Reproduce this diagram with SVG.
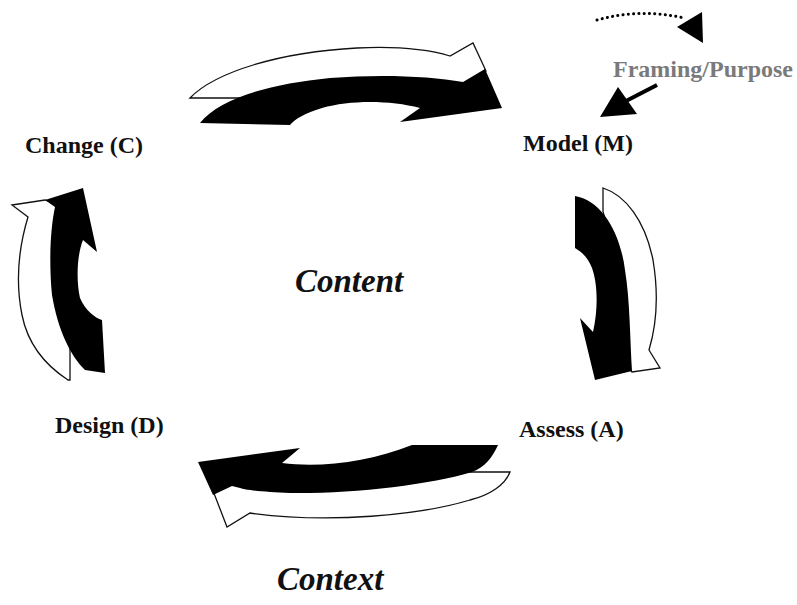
<svg xmlns="http://www.w3.org/2000/svg" width="797" height="605" viewBox="0 0 797 605">
<style>
.lbl{font-family:"Liberation Serif","Times New Roman",serif;font-weight:bold;font-size:24px;fill:#111}
.big{font-family:"Liberation Serif","Times New Roman",serif;font-weight:bold;font-style:italic;font-size:33px;fill:#111}
.gray{fill:#7a7a7a}
.wht{fill:#fff;stroke:#111;stroke-width:1.3;stroke-linejoin:miter}
.blk{fill:#000}
</style>
<rect width="797" height="605" fill="#fff"/>
<g id="connectors">
  <g id="arrow-CM">
    <path class="wht" d="M190,98 C215,72 280,52 357,48 C400,46 430,50 450,56 L473,43 L486,71 L463,88 C400,84 300,88 250,100 L250,98 Z"/>
    <path class="blk" d="M200,123 C220,98 270,84 330,78 C380,74 430,76 463,82 L485,69 L502,108 L400,122 L420,108 C390,100 350,100 322,108 C305,113 295,119 290,125 Z"/>
  </g>
  <g id="arrow-MA">
    <path class="wht" d="M603,188 C625,195 645,220 653,260 C658,290 658,320 649,350 L660,368 L632,372 L622,360 C622,300 618,260 612,240 L603,212 Z"/>
    <path class="blk" d="M575,196 C600,200 620,230 625,270 C630,300 630,340 632,371 L595,380 L580,318 L593,332 C598,310 598,285 592,268 C588,258 582,252 575,248 Z"/>
  </g>
  <g id="arrow-AD">
    <path class="wht" d="M466,472 L510,472 C505,485 490,495 470,500 C420,515 330,524 250,513 L227,527 L205,470 L240,475 C320,480 420,475 460,469 Z"/>
    <path class="blk" d="M198,462 L300,448 L282,463 C320,468 370,462 412,445 L498,445 C492,458 485,467 472,472 C430,485 350,494 290,493 C265,492 245,490 240,488 L232,486 L213,495 Z"/>
  </g>
  <g id="arrow-DC">
    <path class="wht" d="M12,205 L45,200 L60,205 L65,260 C65,300 68,330 70,345 L70,380 L68,380 C45,365 28,345 22,315 C16,285 18,250 28,217 Z"/>
    <path class="blk" d="M83,188 L97,252 L83,240 C77,255 76,280 80,298 C85,310 95,318 102,320 L105,373 L85,370 C70,355 58,330 52,295 C49,265 50,230 55,207 L45,200 Z"/>
  </g>
  <g id="framing-arrows">
    <path d="M597,20 Q640,8 684,18" fill="none" stroke="#000" stroke-width="3" stroke-linecap="round" stroke-dasharray="0.1 5.2"/>
    <polygon points="702,12 677,27 703,43" fill="#000"/>
    <line x1="657" y1="85" x2="626" y2="101" stroke="#000" stroke-width="4"/>
    <polygon points="618,87 600,117 637,114" fill="#000"/>
  </g>
</g>
<g id="node-model"><text class="lbl" x="523" y="151">Model (M)</text></g>
<g id="node-assess"><text class="lbl" x="519" y="437">Assess (A)</text></g>
<g id="node-design"><text class="lbl" x="55" y="433">Design (D)</text></g>
<g id="node-change"><text class="lbl" x="25" y="153">Change (C)</text></g>
<g id="framing"><text class="lbl gray" x="613" y="77">Framing/Purpose</text></g>
<g id="content"><text class="big" x="295" y="292">Content</text></g>
<g id="context"><text class="big" x="277" y="590">Context</text></g>
</svg>
